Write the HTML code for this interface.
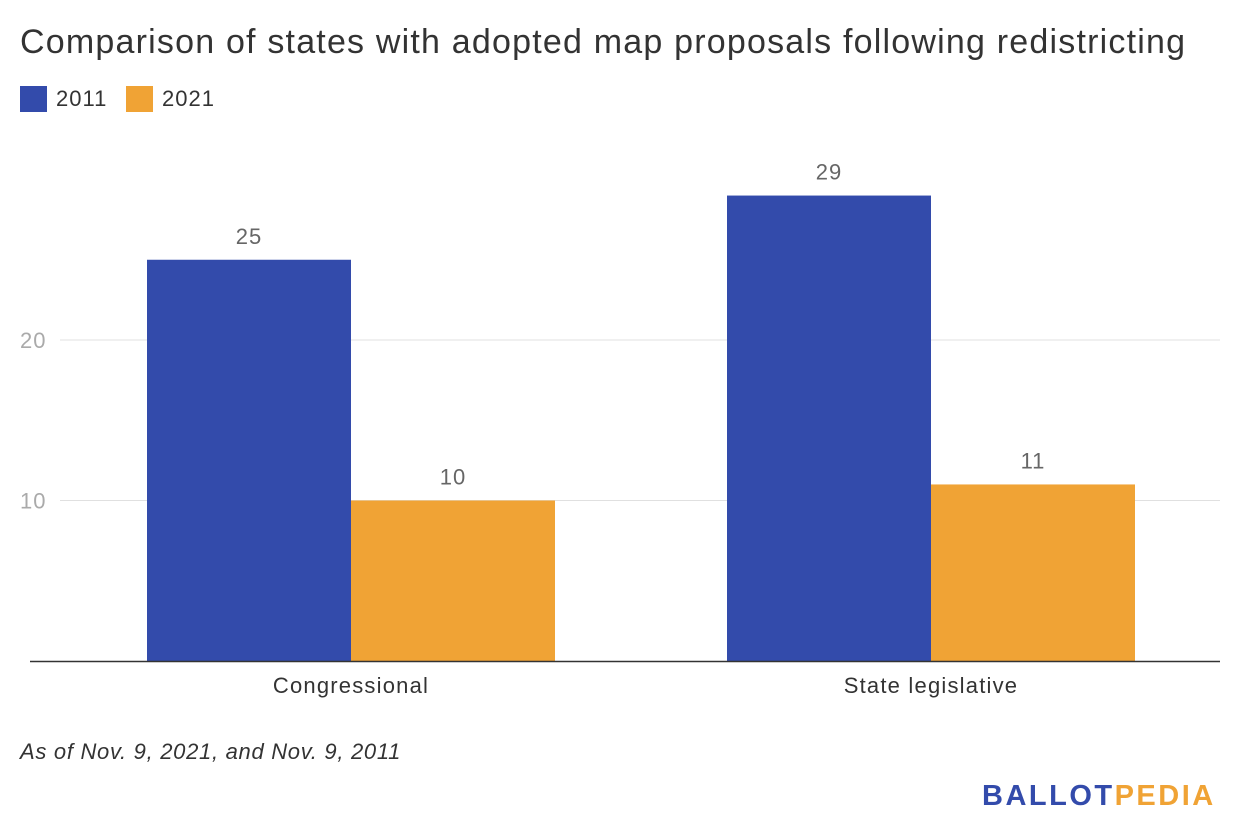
<!DOCTYPE html>
<html><head><meta charset="utf-8"><style>
body{margin:0;width:1240px;height:840px;background:#fff;font-family:"Liberation Sans",sans-serif;overflow:hidden;position:relative}
.t{position:absolute;white-space:nowrap}
</style></head><body>
<div class="t" style="left:20px;top:23px;font-size:34px;letter-spacing:1.2px;color:#333">Comparison of states with adopted map proposals following redistricting</div>
<div style="position:absolute;left:20px;top:86px;width:27px;height:26px;background:#334bab"></div>
<div class="t" style="left:56px;top:86px;font-size:22px;letter-spacing:1px;color:#333">2011</div>
<div style="position:absolute;left:126px;top:86px;width:27px;height:26px;background:#f0a335"></div>
<div class="t" style="left:162px;top:86px;font-size:22px;letter-spacing:1px;color:#333">2021</div>
<svg id="chart" width="1240" height="840" style="position:absolute;left:0;top:0"></svg>
<div class="t" style="left:20px;top:739px;font-size:22px;letter-spacing:0.7px;font-style:italic;color:#333">As of Nov. 9, 2021, and Nov. 9, 2011</div>
<div class="t" style="left:982px;top:780px;font-size:29px;font-weight:bold;letter-spacing:2.5px"><span style="color:#334bab">BALLOT</span><span style="color:#f0a335">PEDIA</span></div>
<script>
const categories=["Congressional","State legislative"];
const series2011=[25,29];
const series2021=[10,11];
const tickValues=[10,20];
const NS="http://www.w3.org/2000/svg";
const svg=document.getElementById('chart');
const y0=661,pxPer=16.05,xL=61,xR=1221;
const yS=v=>y0-v*pxPer;
const band=(xR-xL)/categories.length;
function mk(tag,attrs,text){const e=document.createElementNS(NS,tag);for(const k in attrs)e.setAttribute(k,attrs[k]);if(text!==undefined)e.textContent=text;svg.appendChild(e);return e;}
tickValues.forEach(v=>{
 const g=mk('line',{x1:60,x2:1220,y1:yS(v),y2:yS(v),stroke:'#e0e0e0','stroke-width':1});
 
 
 const t=mk('text',{x:20,y:yS(v)+8,'font-size':22,'letter-spacing':1,fill:'#aaa','font-family':'Liberation Sans'},v);
 
 
});
const bw=204;
categories.forEach((c,i)=>{
 const cx=xL+band*(i+0.5);
 [[series2011[i],'#334bab',cx-bw,'2011'],[series2021[i],'#f0a335',cx,'2021']].forEach(([v,col,x,s])=>{
  const r=mk('rect',{x:x,y:yS(v),width:bw,height:v*pxPer,fill:col});
  
  
  const l=mk('text',{x:x+bw/2,y:yS(v)-16,'font-size':22,'letter-spacing':1,fill:'#666','text-anchor':'middle','font-family':'Liberation Sans'},v);
  
  
 });
 const xl=mk('text',{x:cx,y:693,'font-size':22,'letter-spacing':1.2,fill:'#333','text-anchor':'middle','font-family':'Liberation Sans'},c);
 
 
});
const ax=mk('line',{x1:30,x2:1220,y1:y0+0.5,y2:y0+0.5,stroke:'#333','stroke-width':1.5});


</script>
</body></html>
